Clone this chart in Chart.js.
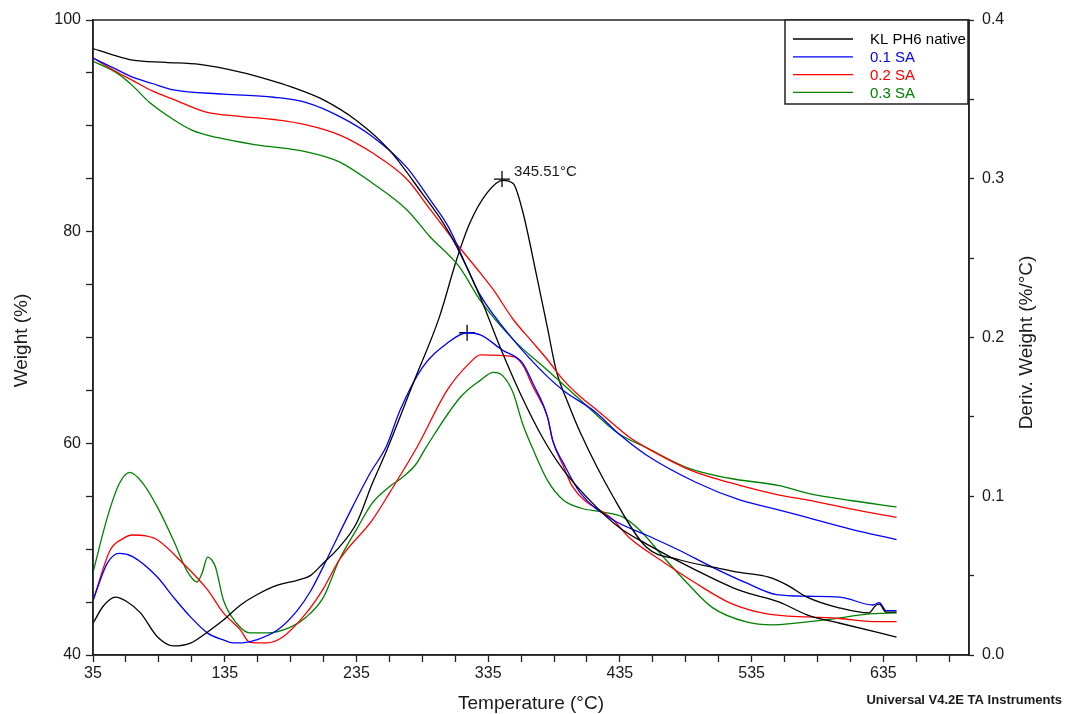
<!DOCTYPE html>
<html>
<head>
<meta charset="utf-8">
<title>TGA / DTG</title>
<script src="https://cdn.jsdelivr.net/npm/chart.js@4.4.1/dist/chart.umd.min.js"></script>
<style>
  html, body { margin: 0; padding: 0; background: #fff; }
  canvas { display: block; }
</style>
</head>
<body>
<canvas id="tgaChart" width="1066" height="714"></canvas>
<script>
// series names (legend order)
const seriesNames = ["KL PH6 native", "0.1 SA", "0.2 SA", "0.3 SA"];

// weight (%) vs temperature (°C)
const klWeight = [[35,97.3],[50,96.7],[65,96.2],[90,96.0],[116,95.8],[146,95.1],[170,94.3],[185,93.7],[210,92.45],[235,90.5],[260,87.7],[285,83.6],[300,81.0],[311,78.6],[329,73.8],[344,69.1],[359,64.8],[376,60.6],[392,57.5],[417,54.0],[435,52.0],[455,50.5],[493,48.0],[526,46.1],[556,45.0],[577,43.8],[602,43.0],[645,41.7]];
const sa1Weight = [[35,96.4],[50,95.5],[65,94.6],[80,94.0],[96,93.4],[134,93.0],[172,92.7],[197,92.2],[222,90.9],[247,89.0],[273,86.1],[291,83.0],[305,80.4],[319,76.6],[329,74.0],[354,69.8],[380,66.3],[392,65.0],[417,62.9],[435,60.8],[455,58.9],[493,56.3],[526,54.65],[556,53.7],[577,53.0],[610,51.9],[645,50.9]];
const sa2Weight = [[35,96.4],[50,95.3],[65,94.3],[80,93.3],[96,92.5],[121,91.3],[146,90.9],[172,90.6],[197,90.1],[222,89.15],[247,87.45],[273,85.0],[291,82.1],[310,79.0],[329,76.1],[339,74.5],[354,71.7],[367,69.8],[380,67.9],[392,66.0],[405,64.4],[417,63.2],[442,60.6],[455,59.6],[488,57.5],[518,56.3],[556,55.1],[577,54.65],[610,53.8],[645,53.0]];
const sa3Weight = [[35,96.1],[53,95.0],[65,93.8],[78,92.2],[96,90.6],[110,89.6],[129,88.9],[159,88.2],[197,87.55],[222,86.6],[247,84.6],[273,82.1],[291,79.5],[313,76.7],[329,73.5],[354,69.8],[380,66.9],[405,64.1],[433,61.0],[455,59.6],[488,57.6],[518,56.7],[556,56.0],[577,55.3],[610,54.6],[645,54.0]];

// derivative weight (%/°C) vs temperature (°C)
const klDeriv = [[35,0.020],[43,0.031],[52,0.0365],[60,0.034],[71,0.0265],[84,0.0113],[96,0.0057],[109,0.0075],[122,0.0145],[134,0.022],[147,0.0315],[159,0.0378],[175,0.044],[190,0.047],[200,0.050],[210,0.058],[222,0.068],[235,0.083],[247,0.108],[258,0.129],[278,0.171],[298,0.213],[311,0.249],[321,0.272],[334,0.291],[346,0.299],[354,0.297],[361,0.280],[372,0.238],[380,0.206],[387,0.178],[395,0.160],[405,0.140],[430,0.0995],[455,0.068],[480,0.060],[508,0.055],[526,0.052],[548,0.049],[562,0.044],[577,0.0365],[602,0.0296],[624,0.0265],[629,0.031],[632,0.032],[637,0.027],[645,0.027]];
const sa1Deriv = [[35,0.0346],[46,0.058],[55,0.064],[65,0.062],[84,0.049],[96,0.0365],[109,0.024],[122,0.0138],[134,0.0095],[141,0.0076],[150,0.0078],[159,0.0095],[175,0.0157],[190,0.028],[200,0.040],[210,0.056],[217,0.068],[230,0.090],[245,0.114],[258,0.132],[268,0.154],[285,0.181],[304,0.1965],[319,0.203],[329,0.2016],[346,0.192],[361,0.184],[369,0.171],[380,0.150],[384,0.135],[392,0.121],[405,0.102],[430,0.085],[455,0.0756],[480,0.066],[505,0.0554],[531,0.0454],[554,0.038],[577,0.037],[602,0.0365],[627,0.0315],[632,0.033],[637,0.028],[645,0.028]];
const sa2Deriv = [[35,0.034],[48,0.066],[57,0.073],[65,0.0756],[75,0.075],[84,0.0724],[103,0.058],[122,0.041],[134,0.0265],[147,0.0157],[154,0.008],[167,0.0076],[179,0.0113],[197,0.0265],[210,0.042],[222,0.060],[247,0.085],[260,0.102],[281,0.131],[304,0.167],[321,0.184],[329,0.189],[354,0.188],[361,0.183],[369,0.169],[380,0.150],[384,0.135],[392,0.119],[399,0.106],[430,0.085],[442,0.074],[468,0.0586],[493,0.045],[518,0.033],[540,0.027],[556,0.025],[577,0.024],[602,0.023],[627,0.021],[645,0.021]];
const sa3Deriv = [[35,0.052],[46,0.087],[55,0.108],[63,0.115],[73,0.108],[84,0.093],[96,0.0724],[106,0.0535],[114,0.046],[118,0.052],[122,0.0617],[125,0.060],[128,0.0554],[134,0.0346],[144,0.020],[154,0.0139],[167,0.0139],[185,0.0176],[197,0.024],[210,0.0365],[222,0.060],[235,0.079],[247,0.0957],[260,0.106],[270,0.112],[280,0.120],[288,0.131],[314,0.1625],[329,0.173],[339,0.178],[346,0.176],[354,0.165],[361,0.146],[367,0.1335],[380,0.110],[392,0.0976],[405,0.0926],[422,0.090],[437,0.087],[450,0.0787],[468,0.0617],[486,0.0454],[505,0.030],[531,0.0208],[551,0.019],[589,0.022],[627,0.026],[645,0.0265]];

// peak markers on the derivative curves, and the label of the main one
const peakMarkers = [[345.51, 0.2998], [319, 0.203]];
const peakLabel = "345.51°C";

// ticks
const xTicks = [35,60,85,110,135,160,185,210,235,260,285,310,335,360,385,410,435,460,485,510,535,560,585,610,635,660,685];
const xTickLabels = [35,135,235,335,435,535,635];
const yTicks = [40,45,50,55,60,65,70,75,80,85,90,95,100];
const yTickLabels = [40,60,80,100];
const y2Ticks = [0,0.05,0.1,0.15,0.2,0.25,0.3,0.35,0.4];
const y2TickLabels = [0,0.1,0.2,0.3,0.4];

const xTitle = "Temperature (°C)";
const yTitle = "Weight (%)";
const y2Title = "Deriv. Weight (%/°C)";
const footer = "Universal V4.2E TA Instruments";

const colors = ["#000000", "#0000ff", "#ff0000", "#008000"];
const FONT = "'Liberation Sans', Arial, Helvetica, sans-serif";
const INK = "#1a1a1a";

function toPoints(pairs) {
  return pairs.map(function (p) { return { x: p[0], y: p[1] }; });
}

function lineSet(label, pairs, color, axis) {
  return {
    label: label,
    data: toPoints(pairs),
    borderColor: color,
    backgroundColor: color,
    borderWidth: 1.3,
    pointRadius: 0,
    fill: false,
    cubicInterpolationMode: "monotone",
    yAxisID: axis,
  };
}

function near(list, v) {
  return list.some(function (t) { return Math.abs(t - v) < 1e-9; });
}

// titles, frame, legend box and the peak annotation
const decorPlugin = {
  id: "decor",
  afterDraw: function (chart) {
    const ctx = chart.ctx;
    const a = chart.chartArea;
    ctx.save();

    ctx.strokeStyle = "#222";
    ctx.lineWidth = 1.5;
    ctx.strokeRect(a.left, a.top, a.right - a.left, a.bottom - a.top);

    // legend
    const lx = 785, ly = a.top, lw = 968 - 785, lh = 104 - a.top;
    ctx.fillStyle = "#fff";
    ctx.fillRect(lx, ly, lw, lh);
    ctx.strokeRect(lx, ly, lw, lh);
    ctx.font = "15px " + FONT;
    ctx.textBaseline = "middle";
    ctx.textAlign = "left";
    seriesNames.forEach(function (name, i) {
      const yy = 39 + i * 17.8;
      ctx.strokeStyle = colors[i];
      ctx.lineWidth = 1.3;
      ctx.beginPath();
      ctx.moveTo(793, yy);
      ctx.lineTo(853, yy);
      ctx.stroke();
      ctx.fillStyle = colors[i];
      ctx.fillText(name, 870, yy + 1);
    });

    // peak annotation
    const px = chart.scales.x.getPixelForValue(peakMarkers[0][0]);
    const py = chart.scales.y2.getPixelForValue(peakMarkers[0][1]);
    ctx.fillStyle = INK;
    ctx.font = "15px " + FONT;
    ctx.fillText(peakLabel, px + 12, py - 7);

    // axis titles
    ctx.font = "19px " + FONT;
    ctx.fillStyle = INK;
    ctx.textAlign = "center";
    ctx.fillText(xTitle, (a.left + a.right) / 2, 704);

    ctx.save();
    ctx.translate(22, (a.top + a.bottom) / 2 + 3);
    ctx.rotate(-Math.PI / 2);
    ctx.fillText(yTitle, 0, 0);
    ctx.restore();

    ctx.save();
    ctx.translate(1027, (a.top + a.bottom) / 2 + 5);
    ctx.rotate(-Math.PI / 2);
    ctx.fillText(y2Title, 0, 0);
    ctx.restore();

    // footer
    ctx.font = "bold 13px " + FONT;
    ctx.textAlign = "right";
    ctx.fillStyle = INK;
    ctx.fillText(footer, 1062, 700);

    ctx.restore();
  },
};

Chart.defaults.font.family = FONT;
Chart.defaults.color = INK;

const ctx = document.getElementById("tgaChart").getContext("2d");
new Chart(ctx, {
  type: "line",
  data: {
    datasets: [
      lineSet(seriesNames[0], klWeight, colors[0], "y"),
      lineSet(seriesNames[1], sa1Weight, colors[1], "y"),
      lineSet(seriesNames[2], sa2Weight, colors[2], "y"),
      lineSet(seriesNames[3], sa3Weight, colors[3], "y"),
      lineSet(seriesNames[0] + " deriv", klDeriv, colors[0], "y2"),
      lineSet(seriesNames[1] + " deriv", sa1Deriv, colors[1], "y2"),
      lineSet(seriesNames[2] + " deriv", sa2Deriv, colors[2], "y2"),
      lineSet(seriesNames[3] + " deriv", sa3Deriv, colors[3], "y2"),
      {
        type: "scatter",
        label: "peaks",
        data: toPoints(peakMarkers),
        yAxisID: "y2",
        pointStyle: "cross",
        pointRadius: 8,
        borderColor: "#000",
        borderWidth: 1.3,
        showLine: false,
      },
    ],
  },
  options: {
    responsive: false,
    animation: false,
    events: [],
    layout: { padding: { top: 20, left: 0, right: 0, bottom: 0 } },
    plugins: {
      legend: { display: false },
      tooltip: { enabled: false },
    },
    scales: {
      x: {
        type: "linear",
        position: "bottom",
        min: 35,
        max: 700,
        afterBuildTicks: function (scale) {
          scale.ticks = xTicks.map(function (v) { return { value: v }; });
        },
        afterFit: function (scale) { scale.height = 59; },
        ticks: {
          autoSkip: false,
          maxRotation: 0,
          padding: 2,
          color: INK,
          font: { size: 16 },
          callback: function (v) { return near(xTickLabels, v) ? String(v) : ""; },
        },
        grid: { drawOnChartArea: false, tickLength: 7, color: "#222", tickWidth: 1.3 },
        border: { color: "#222", width: 1.5 },
      },
      y: {
        type: "linear",
        position: "left",
        min: 40,
        max: 100,
        afterBuildTicks: function (scale) {
          scale.ticks = yTicks.map(function (v) { return { value: v }; });
        },
        afterFit: function (scale) { scale.width = 93; },
        ticks: {
          autoSkip: false,
          padding: 5,
          color: INK,
          font: { size: 16 },
          callback: function (v) { return near(yTickLabels, v) ? String(v) : ""; },
        },
        grid: { drawOnChartArea: false, tickLength: 7, color: "#222", tickWidth: 1.3 },
        border: { color: "#222", width: 1.5 },
      },
      y2: {
        type: "linear",
        position: "right",
        min: 0,
        max: 0.4,
        afterBuildTicks: function (scale) {
          scale.ticks = y2Ticks.map(function (v) { return { value: v }; });
        },
        afterFit: function (scale) { scale.width = 97; },
        ticks: {
          autoSkip: false,
          padding: 8,
          color: INK,
          font: { size: 16 },
          callback: function (v) { return near(y2TickLabels, v) ? v.toFixed(1) : ""; },
        },
        grid: { drawOnChartArea: false, tickLength: 5, color: "#222", tickWidth: 1.3 },
        border: { color: "#222", width: 1.5 },
      },
    },
  },
  plugins: [decorPlugin],
});
</script>
</body>
</html>
